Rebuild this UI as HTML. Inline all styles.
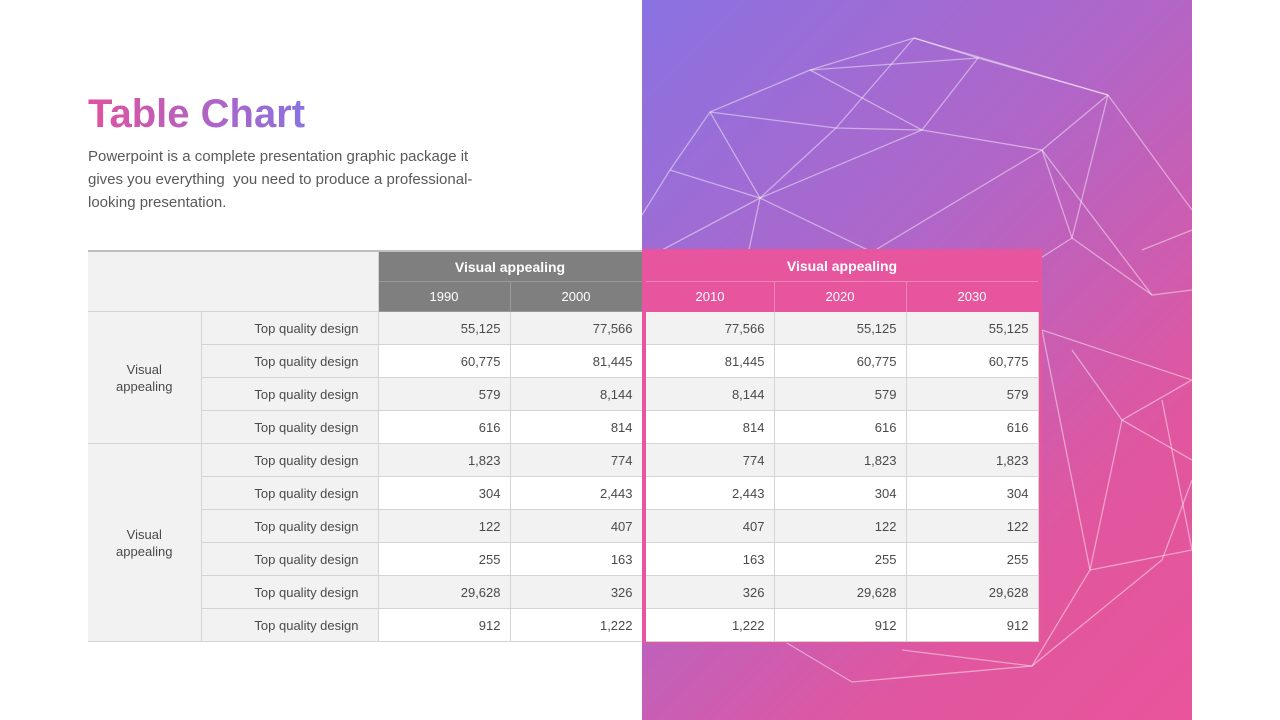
<!DOCTYPE html>
<html><head><meta charset="utf-8"><style>
body{margin:0;width:1280px;height:720px;position:relative;overflow:hidden;background:#fff;font-family:"Liberation Sans",sans-serif;}
.panel{position:absolute;left:642px;top:0;width:550px;height:720px;background:linear-gradient(135deg,#8a72e2 0%,#b066c8 40%,#e0569f 75%,#e8559c 100%);}
h1{position:absolute;left:88px;top:92px;margin:0;font-size:40px;font-weight:bold;background:linear-gradient(90deg,#e0529e,#8a72e2);-webkit-background-clip:text;background-clip:text;color:transparent;}
p{position:absolute;left:88px;top:145px;margin:0;width:412px;font-size:15px;line-height:23px;color:#595959;}
table{border-collapse:collapse;table-layout:fixed;position:absolute;font-size:13px;color:#4a4a4a;}
td{padding:0;overflow:hidden;white-space:nowrap;}
#lt{left:88px;top:250px;width:554px;border-top:2px solid #bfbfbf;border-bottom:1px solid #a6a6a6;}
#lt td{border-bottom:1px solid #d4d4d4;border-right:1px solid #d4d4d4;height:32px;}
#lt tr.h td{height:29px;}
.gh{background:#7f7f7f;color:#fff;text-align:center;font-weight:bold;font-size:14px;border-color:#9a9a9a!important}
.gy{background:#7f7f7f;color:#fff;text-align:center;border-color:#9a9a9a!important}
.lb{background:#f2f2f2;text-align:right;padding-right:19px!important}
.grp{background:#f2f2f2;text-align:center;line-height:17px;}
.n{text-align:right;padding-right:9px!important}
.g{background:#f2f2f2}.w{background:#fff}
.pink{position:absolute;left:642px;top:249px;width:400px;height:394px;background:#e8559f;}
#rt{left:646px;top:312px;width:392px;}
#rt td{border-bottom:1px solid #d4d4d4;border-right:1px solid #d4d4d4;height:32px;}
.ph{position:absolute;color:#fff;text-align:center;}
</style></head><body>
<div class="panel"><svg width="550" height="720" style="position:absolute;left:0;top:0" fill="none" stroke="rgba(255,255,255,0.45)" stroke-width="1.3">
<polyline points="272,38 466,95 550,210"/>
<polyline points="272,38 168,70 68,112 28,170 0,215"/>
<polyline points="68,112 118,198 90,330"/>
<polyline points="168,70 280,130 400,150 466,95"/>
<polyline points="28,170 118,198 280,130 336,58 272,38"/>
<polyline points="68,112 194,128 280,130"/>
<polyline points="118,198 230,252 400,150 510,295 550,290"/>
<polyline points="400,150 430,238 510,295"/>
<polyline points="168,70 336,58 466,95"/>
<polyline points="466,95 430,238 380,270"/>
<polyline points="272,38 194,128 118,198"/>
<polyline points="20,250 118,198"/>
<polyline points="550,230 500,250"/>
<polyline points="400,330 550,380 480,420 550,460"/>
<polyline points="430,350 480,420 448,570 390,666 210,682 140,640"/>
<polyline points="448,570 550,550 520,400"/>
<polyline points="390,666 520,560 550,480"/>
<polyline points="400,330 448,570"/>
<polyline points="260,650 390,666"/>
</svg></div>
<h1>Table Chart</h1>
<p>Powerpoint is a complete presentation graphic package it gives you everything&nbsp; you need to produce a professional-looking presentation.</p>
<table id="lt"><colgroup><col style="width:113px"><col style="width:177px"><col style="width:132px"><col style="width:132px"></colgroup>
<tr class="h"><td colspan="2" rowspan="2" class="g" style="height:59px"></td><td colspan="2" class="gh">Visual appealing</td></tr>
<tr class="h"><td class="gy">1990</td><td class="gy">2000</td></tr>
<tr><td rowspan="4" class="grp">Visual<br>appealing</td><td class="lb">Top quality design</td><td class="n g">55,125</td><td class="n g">77,566</td></tr>
<tr><td class="lb">Top quality design</td><td class="n w">60,775</td><td class="n w">81,445</td></tr>
<tr><td class="lb">Top quality design</td><td class="n g">579</td><td class="n g">8,144</td></tr>
<tr><td class="lb">Top quality design</td><td class="n w">616</td><td class="n w">814</td></tr>
<tr><td rowspan="6" class="grp">Visual<br>appealing</td><td class="lb">Top quality design</td><td class="n g">1,823</td><td class="n g">774</td></tr>
<tr><td class="lb">Top quality design</td><td class="n w">304</td><td class="n w">2,443</td></tr>
<tr><td class="lb">Top quality design</td><td class="n g">122</td><td class="n g">407</td></tr>
<tr><td class="lb">Top quality design</td><td class="n w">255</td><td class="n w">163</td></tr>
<tr><td class="lb">Top quality design</td><td class="n g">29,628</td><td class="n g">326</td></tr>
<tr><td class="lb">Top quality design</td><td class="n w">912</td><td class="n w">1,222</td></tr>
</table>
<div class="pink">
<div class="ph" style="left:0;top:0;width:400px;line-height:34px;font-weight:bold;font-size:14px">Visual appealing</div>
<div style="position:absolute;left:4px;top:32px;width:392px;height:1px;background:#ee88b8"></div>
<div style="position:absolute;left:132px;top:33px;width:1px;height:30px;background:#ee88b8"></div>
<div style="position:absolute;left:264px;top:33px;width:1px;height:30px;background:#ee88b8"></div>
<div class="ph" style="left:4px;top:33px;width:128px;line-height:30px;font-size:13px">2010</div>
<div class="ph" style="left:132px;top:33px;width:132px;line-height:30px;font-size:13px">2020</div>
<div class="ph" style="left:264px;top:33px;width:132px;line-height:30px;font-size:13px">2030</div>
</div>
<table id="rt"><colgroup><col style="width:128px"><col style="width:132px"><col style="width:132px"></colgroup>
<tr class="g"><td class="n">77,566</td><td class="n">55,125</td><td class="n">55,125</td></tr>
<tr class="w"><td class="n">81,445</td><td class="n">60,775</td><td class="n">60,775</td></tr>
<tr class="g"><td class="n">8,144</td><td class="n">579</td><td class="n">579</td></tr>
<tr class="w"><td class="n">814</td><td class="n">616</td><td class="n">616</td></tr>
<tr class="g"><td class="n">774</td><td class="n">1,823</td><td class="n">1,823</td></tr>
<tr class="w"><td class="n">2,443</td><td class="n">304</td><td class="n">304</td></tr>
<tr class="g"><td class="n">407</td><td class="n">122</td><td class="n">122</td></tr>
<tr class="w"><td class="n">163</td><td class="n">255</td><td class="n">255</td></tr>
<tr class="g"><td class="n">326</td><td class="n">29,628</td><td class="n">29,628</td></tr>
<tr class="w"><td class="n">1,222</td><td class="n">912</td><td class="n">912</td></tr>
</table>
</body></html>
